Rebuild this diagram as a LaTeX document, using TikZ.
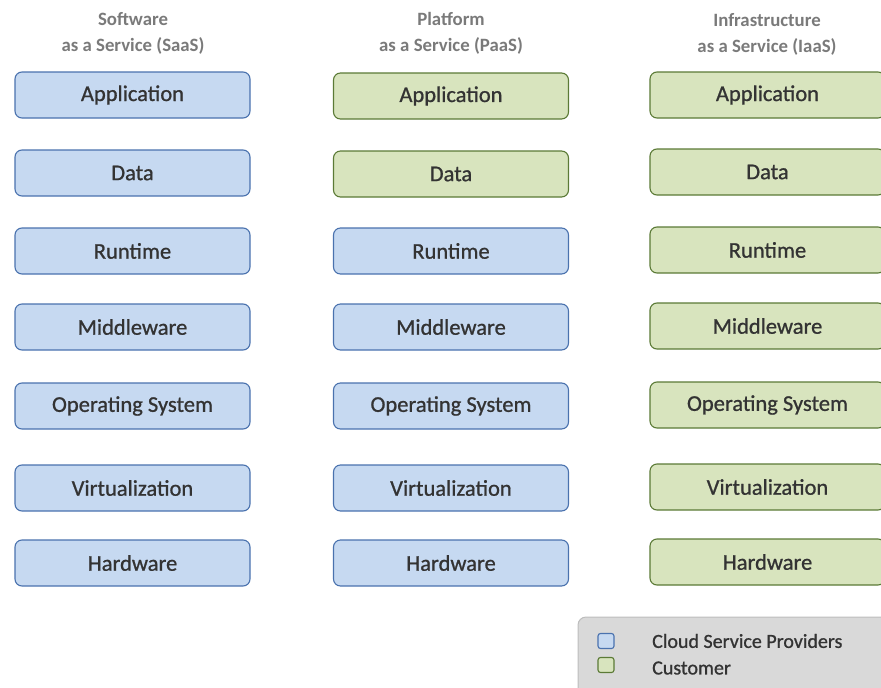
\documentclass[tikz,border=0pt]{standalone}
\usepackage{fontspec}
\setmainfont{Carlito}
\newfontfamily\medfont[FakeBold=0.9]{Carlito}
\definecolor{bfill}{HTML}{C6D9F1}
\definecolor{bdraw}{HTML}{4A72AE}
\definecolor{gfill}{HTML}{D8E4BE}
\definecolor{gdraw}{HTML}{5B7A36}
\definecolor{txt}{HTML}{333333}
\definecolor{head}{HTML}{7A7A7A}
\definecolor{legfill}{HTML}{D9D9D9}
\definecolor{legdraw}{HTML}{BDBDBD}
\begin{document}
\begin{tikzpicture}[x=1pt,y=-1pt,
  layer/.style={rounded corners=7pt, line width=1.1pt, minimum width=235pt, minimum height=46pt, inner sep=0pt, text=txt, font=\medfont\fontsize{22.5}{26}\selectfont},
  prov/.style={layer, fill=bfill, draw=bdraw},
  cust/.style={layer, fill=gfill, draw=gdraw},
  heading/.style={align=center, text=head, font=\bfseries\fontsize{18.8}{26}\selectfont},
  legbox/.style={rounded corners=2.5pt, line width=1.1pt, minimum width=16pt, minimum height=15pt, inner sep=0pt},
  legtext/.style={anchor=west, text=txt, inner sep=0pt, font=\medfont\fontsize{20}{22}\selectfont}]
\useasboundingbox (0,0) rectangle (881,688);
\clip (0,0) rectangle (881,688);
% headings
\node[heading] (hs) at (133,33) {Software\\as a Service (SaaS)};
\node[heading] (hp) at (451,33) {Platform\\as a Service (PaaS)};
\node[heading] (hi) at (767,34) {Infrastructure\\as a Service (IaaS)};
% SaaS
\node[prov] (s1) at (132.5,95) {Application};
\node[prov] (s2) at (132.5,173) {Data};
\node[prov] (s3) at (132.5,251) {Runtime};
\node[prov] (s4) at (132.5,327) {Middleware};
\node[prov] (s5) at (132.5,406) {Operating System};
\node[prov] (s6) at (132.5,488) {Virtualization};
\node[prov] (s7) at (132.5,563) {Hardware};
% PaaS
\node[cust] (p1) at (451,96) {Application};
\node[cust] (p2) at (451,174) {Data};
\node[prov] (p3) at (451,251) {Runtime};
\node[prov] (p4) at (451,327) {Middleware};
\node[prov] (p5) at (451,406) {Operating System};
\node[prov] (p6) at (451,488) {Virtualization};
\node[prov] (p7) at (451,563) {Hardware};
% IaaS
\node[cust] (i1) at (767.5,95) {Application};
\node[cust] (i2) at (767.5,172) {Data};
\node[cust] (i3) at (767.5,250) {Runtime};
\node[cust] (i4) at (767.5,326) {Middleware};
\node[cust] (i5) at (767.5,405) {Operating System};
\node[cust] (i6) at (767.5,487) {Virtualization};
\node[cust] (i7) at (767.5,562) {Hardware};
% legend
\draw[fill=legfill, draw=legdraw, line width=1pt, rounded corners=8pt] (578,617) rectangle (900,700);
\node[legbox, fill=bfill, draw=bdraw] (lb) at (606,641) {};
\node[legbox, fill=gfill, draw=gdraw] (lg) at (606,665) {};
\node[legtext] (lbt) at (652,641) {Cloud Service Providers};
\node[legtext] (lgt) at (652,668) {Customer};
\end{tikzpicture}
\end{document}
